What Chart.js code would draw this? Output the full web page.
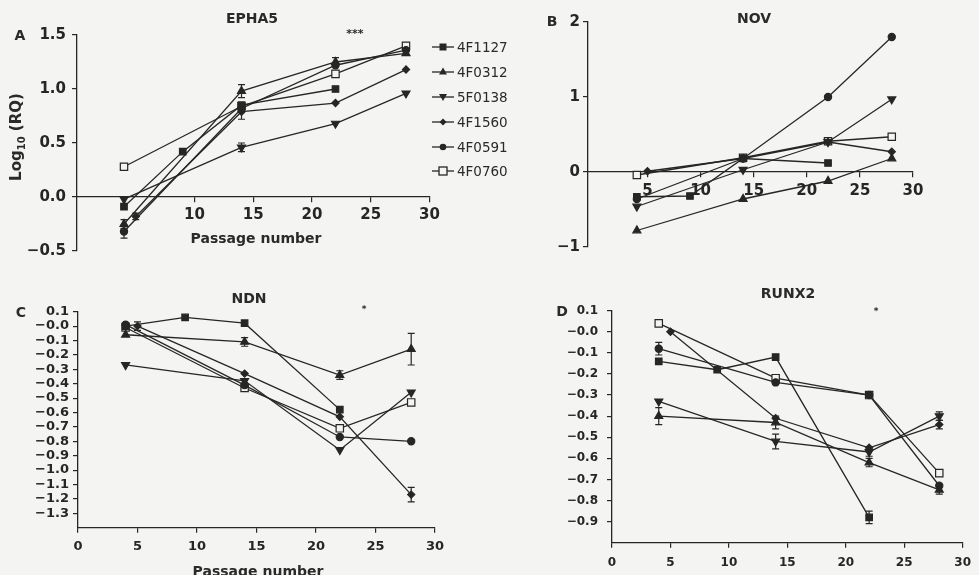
<!DOCTYPE html>
<html>
<head>
<meta charset="utf-8">
<script src="https://cdn.jsdelivr.net/npm/chart.js@4.4.1/dist/chart.umd.min.js"></script>
<style>
  html, body { margin: 0; padding: 0; background: #f4f4f2; }
  #wrap { position: relative; width: 979px; height: 575px; overflow: hidden;
          font-family: "DejaVu Sans", sans-serif; color: #2a2a2a; }
  #wrap canvas { position: absolute; left: 0; top: 0; }
  .lbl { position: absolute; transform: translate(-50%, -50%); white-space: nowrap;
         font-weight: bold; font-size: 14px; }
  .ylab { transform: translate(-50%, -50%) rotate(-90deg); font-size: 15px; }
  .ylab sub { font-size: 10px; }
  .legend { position: absolute; left: 432px; top: 35px; font-size: 13.5px; }
  .legend div { height: 24.8px; display: flex; align-items: center; }
  .legend svg { margin-right: 1px; }
</style>
</head>
<body>
<div id="wrap">
  <canvas id="cA" width="979" height="575"></canvas>
  <canvas id="cB" width="979" height="575"></canvas>
  <canvas id="cC" width="979" height="575"></canvas>
  <canvas id="cD" width="979" height="575"></canvas>

  <div class="lbl" style="left:20px;top:35px">A</div>
  <div class="lbl" style="left:552px;top:21px">B</div>
  <div class="lbl" style="left:21px;top:312px">C</div>
  <div class="lbl" style="left:562px;top:311px">D</div>

  <div class="lbl" style="left:252px;top:18px">EPHA5</div>
  <div class="lbl" style="left:754px;top:18px">NOV</div>
  <div class="lbl" style="left:249px;top:298px">NDN</div>
  <div class="lbl" style="left:788px;top:293px">RUNX2</div>

  <div class="lbl" style="left:355px;top:33px;font-size:11px">***</div>
  <div class="lbl" style="left:364px;top:309px;font-size:9px">*</div>
  <div class="lbl" style="left:876px;top:311px;font-size:9px">*</div>

  <div class="lbl" style="left:256px;top:238px">Passage number</div>
  <div class="lbl" style="left:258px;top:571px">Passage number</div>
  <div class="lbl ylab" style="left:17px;top:137px">Log<sub>10</sub> (RQ)</div>

  <div class="legend" id="legend"></div>
</div>
<script>
// cell lines
const seriesNames = ['4F1127', '4F0312', '5F0138', '4F1560', '4F0591', '4F0760'];
// passage numbers sampled for each cell line
const passages = [
  [4, 9, 14, 22],
  [4, 14, 22, 28],
  [4, 14, 22, 28],
  [5, 14, 22, 28],
  [4, 14, 22, 28],
  [4, 14, 22, 28]
];

// log10(RQ) values, one row per cell line
const epha5 = [
  [-0.09, 0.42, 0.85, 1.00],
  [-0.25, 0.98, 1.25, 1.33],
  [-0.02, 0.46, 0.68, 0.96],
  [-0.18, 0.79, 0.87, 1.18],
  [-0.32, 0.82, 1.22, 1.36],
  [0.28, 0.84, 1.14, 1.40]
];
const nov = [
  [-0.33, -0.32, 0.18, 0.12],
  [-0.78, -0.36, -0.12, 0.18],
  [-0.46, 0.03, 0.40, 0.97],
  [0.01, 0.18, 0.40, 0.27],
  [-0.36, 0.18, 1.00, 1.80],
  [-0.04, 0.19, 0.41, 0.47]
];
const ndn = [
  [0.00, 0.06, 0.02, -0.58],
  [-0.06, -0.11, -0.34, -0.16],
  [-0.27, -0.38, -0.86, -0.46],
  [0.00, -0.33, -0.63, -1.17],
  [0.01, -0.41, -0.77, -0.80],
  [-0.01, -0.43, -0.71, -0.53]
];
const runx2 = [
  [-0.14, -0.18, -0.12, -0.88],
  [-0.40, -0.43, -0.62, -0.75],
  [-0.33, -0.52, -0.57, -0.40],
  [0.00, -0.41, -0.55, -0.44],
  [-0.08, -0.24, -0.30, -0.73],
  [0.04, -0.22, -0.30, -0.67]
];

// error bars: [cell line, point, sd]
const epha5Err = [[1, 0, 0.04], [4, 0, 0.06], [1, 1, 0.06], [2, 1, 0.04], [3, 1, 0.07], [1, 2, 0.04], [3, 0, 0.03]];
const novErr = [];
const ndnErr = [[1, 3, 0.11], [3, 3, 0.05], [1, 2, 0.03], [1, 1, 0.03], [3, 0, 0.03]];
const runx2Err = [[4, 0, 0.03], [1, 0, 0.04], [2, 1, 0.035], [1, 1, 0.03], [0, 3, 0.03],
                  [3, 3, 0.02], [2, 3, 0.02], [1, 3, 0.02], [2, 2, 0.02], [1, 2, 0.02]];

// tick labels
const epha5XTicks = [10, 15, 20, 25, 30];
const epha5YTicks = [-0.5, 0, 0.5, 1, 1.5];
const novXTicks = [5, 10, 15, 20, 25, 30];
const novYTicks = [-1, 0, 1, 2];
const ndnXTicks = [0, 5, 10, 15, 20, 25, 30];
const ndnYTicks = [0.1, 0, -0.1, -0.2, -0.3, -0.4, -0.5, -0.6, -0.7, -0.8, -0.9, -1.0, -1.1, -1.2, -1.3];
const runx2XTicks = [0, 5, 10, 15, 20, 25, 30];
const runx2YTicks = [0.1, 0, -0.1, -0.2, -0.3, -0.4, -0.5, -0.6, -0.7, -0.8, -0.9];

const ink = '#262626';
const paper = '#f4f4f2';
const markers = [
  {pointStyle: 'rect', pointRadius: 4.6, pointRotation: 0, pointBackgroundColor: ink},
  {pointStyle: 'triangle', pointRadius: 4.6, pointRotation: 0, pointBackgroundColor: ink},
  {pointStyle: 'triangle', pointRadius: 4.6, pointRotation: 180, pointBackgroundColor: ink},
  {pointStyle: 'rectRot', pointRadius: 3.6, pointRotation: 0, pointBackgroundColor: ink},
  {pointStyle: 'circle', pointRadius: 3.6, pointRotation: 0, pointBackgroundColor: ink},
  {pointStyle: 'rect', pointRadius: 5.2, pointRotation: 0, pointBackgroundColor: paper}
];

function minusFmt(v) {
  return v.toFixed(1).replace('-', '\u2212');
}
function signedFmt(v) {
  // 0 is printed as "-0.0" on the small panels
  return v > 0.05 ? v.toFixed(1) : '\u2212' + Math.abs(v).toFixed(1);
}

function errorBars(list) {
  return {
    id: 'errorBars',
    afterDatasetsDraw(chart) {
      const ctx = chart.ctx;
      const xs = chart.scales.x, ys = chart.scales.y;
      ctx.save();
      ctx.strokeStyle = ink;
      ctx.lineWidth = 1.2;
      list.forEach(([s, i, e]) => {
        const pt = chart.data.datasets[s].data[i];
        const px = xs.getPixelForValue(pt.x);
        const y1 = ys.getPixelForValue(pt.y + e);
        const y2 = ys.getPixelForValue(pt.y - e);
        ctx.beginPath();
        ctx.moveTo(px, y1); ctx.lineTo(px, y2);
        ctx.moveTo(px - 3.5, y1); ctx.lineTo(px + 3.5, y1);
        ctx.moveTo(px - 3.5, y2); ctx.lineTo(px + 3.5, y2);
        ctx.stroke();
      });
      ctx.restore();
    }
  };
}

const Y_W = 60;   // room kept for y tick labels
const X_H = 30;   // room kept for bottom x tick labels

function panel(id, values, errs, p) {
  const datasets = values.map((vals, s) => Object.assign({
    label: seriesNames[s],
    data: passages[s].map((x, i) => ({x: x, y: vals[i]})),
    borderColor: ink,
    borderWidth: 1.3,
    pointBorderColor: ink,
    pointBorderWidth: 1.2,
    tension: 0,
    clip: false
  }, markers[s]));

  const bottomAxis = p.xPos === 'bottom';
  const pad = {
    left: p.area.left - Y_W,
    top: p.area.top,
    right: 979 - p.area.right,
    bottom: 575 - p.area.bottom - (bottomAxis ? X_H : 0)
  };
  const font = {family: 'DejaVu Sans', size: p.font, weight: 'bold'};
  return new Chart(document.getElementById(id), {
    type: 'line',
    data: {datasets: datasets},
    plugins: [errorBars(errs)],
    options: {
      responsive: false,
      animation: false,
      events: [],
      layout: {padding: pad},
      plugins: {legend: {display: false}, tooltip: {enabled: false}},
      scales: {
        x: {
          type: 'linear',
          min: p.xMin, max: 30,
          position: p.xPos,
          afterFit: s => { s.height = bottomAxis ? X_H : 0; },
          afterBuildTicks: s => { s.ticks = p.xTicks.map(v => ({value: v})); },
          ticks: {font: font, color: ink, padding: p.xPadding, maxRotation: 0, autoSkip: false,
                  callback: v => String(v)},
          grid: {drawOnChartArea: false, tickLength: 5, color: ink, lineWidth: 1.2},
          border: {color: ink, width: 1.3}
        },
        y: {
          type: 'linear',
          min: p.yMin, max: p.yMax,
          afterFit: s => { s.width = Y_W; },
          afterBuildTicks: s => { s.ticks = p.yTicks.map(v => ({value: v})); },
          ticks: {font: font, color: ink, padding: p.yPadding, autoSkip: false, callback: p.fmt},
          grid: {drawOnChartArea: false, tickLength: 5, color: ink, lineWidth: 1.2},
          border: {color: ink, width: 1.3}
        }
      }
    }
  });
}

panel('cA', epha5, epha5Err, {
  area: {left: 77, top: 35, right: 429.5, bottom: 251},
  xMin: 0, xPos: {y: 0}, xTicks: epha5XTicks, xPadding: 4,
  yMin: -0.5, yMax: 1.5, yTicks: epha5YTicks, yPadding: 6,
  fmt: v => minusFmt(v), font: 15
});
panel('cB', nov, novErr, {
  area: {left: 588, top: 22, right: 913, bottom: 247},
  xMin: -0.6, xPos: {y: 0}, xTicks: novXTicks, xPadding: 5,
  yMin: -1, yMax: 2, yTicks: novYTicks, yPadding: 3,
  fmt: v => String(v).replace('-', '\u2212'), font: 15
});
panel('cC', ndn, ndnErr, {
  area: {left: 78, top: 311.7, right: 435, bottom: 527.7},
  xMin: 0, xPos: 'bottom', xTicks: ndnXTicks, xPadding: 6,
  yMin: -1.4, yMax: 0.1, yTicks: ndnYTicks, yPadding: 4,
  fmt: v => signedFmt(v), font: 13
});
panel('cD', runx2, runx2Err, {
  area: {left: 612, top: 310.7, right: 964, bottom: 542.7},
  xMin: 0, xPos: 'bottom', xTicks: runx2XTicks, xPadding: 8,
  yMin: -1.0, yMax: 0.1, yTicks: runx2YTicks, yPadding: 9,
  fmt: v => signedFmt(v), font: 12
});

// legend (line + marker, then name)
const legendShapes = [
  '<rect x="7.5" y="2.5" width="7" height="7" fill="' + ink + '"/>',
  '<polygon points="11,1.5 15,8.5 7,8.5" fill="' + ink + '"/>',
  '<polygon points="11,10 15,3 7,3" fill="' + ink + '"/>',
  '<polygon points="11,2.5 14.5,6 11,9.5 7.5,6" fill="' + ink + '"/>',
  '<circle cx="11" cy="6" r="3.3" fill="' + ink + '"/>',
  '<rect x="7" y="2" width="8" height="8" fill="' + paper + '" stroke="' + ink + '" stroke-width="1.3"/>'
];
const legend = document.getElementById('legend');
seriesNames.forEach((name, s) => {
  const row = document.createElement('div');
  row.innerHTML = '<svg width="24" height="12"><line x1="0" y1="6" x2="22" y2="6" stroke="' + ink +
    '" stroke-width="1.3"/>' + legendShapes[s] + '</svg><span>' + name + '</span>';
  legend.appendChild(row);
});
</script>
</body>
</html>
